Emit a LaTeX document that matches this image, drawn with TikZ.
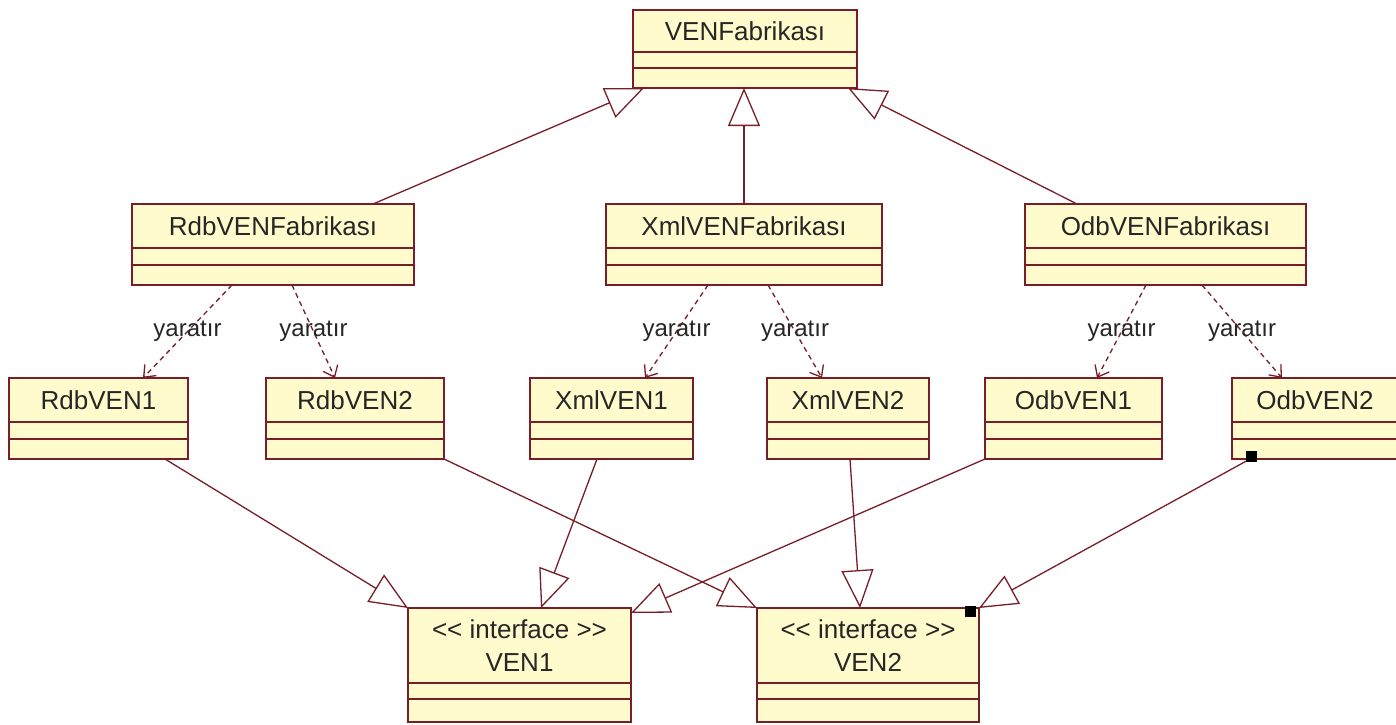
\documentclass[tikz,border=0pt]{standalone}
\usepackage{fontspec}
\setmainfont{Liberation Sans}
\usetikzlibrary{arrows.meta,fit,calc}
\definecolor{umlline}{RGB}{120,30,40}
\definecolor{umlfill}{RGB}{255,251,204}
\tikzset{
  clsbox/.style={draw=umlline, fill=umlfill, line width=1.6pt, inner sep=0pt, outer sep=0pt},
  seprule/.style={draw=umlline, line width=1.6pt},
  clstext/.style={font=\fontsize{26}{33}\selectfont, text=black!85, inner sep=0pt, align=center},
  genarrow/.style={draw=umlline, line width=1.3pt, -{Triangle[open, length=38pt, width=32pt, line width=1.3pt]}},
  deparrow/.style={draw=umlline, line width=1.3pt, dash pattern=on 5pt off 4pt, -{Straight Barb[length=10pt, width=16pt, line width=1.3pt]}},
  deplabel/.style={font=\fontsize{24}{28}\selectfont, text=black!85, inner sep=0pt},
  handle/.style={fill=black, draw=none, minimum size=11pt, inner sep=0pt},
}
\newcommand{\umlcls}[8]{%
  \node[clsbox, fit={(#2,#3) (#4,#5)}] (#1) {};
  \draw[seprule] (#2,#6) -- (#4,#6) (#2,#7) -- (#4,#7);
  \node[clstext] (#1-name) at ({(#2+#4)/2},{(#3+#6)/2}) {#8};
}
\begin{document}
\begin{tikzpicture}[x=1pt,y=-1pt]
\useasboundingbox (0,0) rectangle (1396,724);
\fill[white] (0,0) rectangle (1396,724);

% classes
\umlcls{venf}{633}{10}{857}{88}{52}{68}{VENFabrikası}
\umlcls{rdbf}{132}{204}{414}{285}{248}{265}{RdbVENFabrikası}
\umlcls{xmlf}{606}{204}{882}{285}{248}{265}{XmlVENFabrikası}
\umlcls{odbf}{1025}{204}{1306}{285}{248}{265}{OdbVENFabrikası}
\umlcls{rv1}{9}{378}{188}{459}{422}{439}{RdbVEN1}
\umlcls{rv2}{266}{378}{444}{459}{422}{439}{RdbVEN2}
\umlcls{xv1}{530}{378}{693}{459}{422}{439}{XmlVEN1}
\umlcls{xv2}{767}{378}{929}{459}{422}{439}{XmlVEN2}
\umlcls{ov1}{985}{378}{1162}{459}{422}{439}{OdbVEN1}
\umlcls{ov2}{1232}{378}{1398}{459}{422}{439}{OdbVEN2}
\umlcls{ven1}{408}{608}{631}{722}{683}{699}{<\kern0pt< interface >\kern0pt>\\VEN1}
\umlcls{ven2}{757}{608}{979}{722}{683}{699}{<\kern0pt< interface >\kern0pt>\\VEN2}

% generalizations to VENFabrikasi
\draw[genarrow] ([xshift=241pt]rdbf.north west) -- ([xshift=11pt]venf.south west);
\draw[genarrow] (xmlf.north) -- (xmlf.north |- venf.south);
\draw[genarrow] ([xshift=52pt]odbf.north west) -- ([xshift=-9pt]venf.south east);

% dependencies
\draw[deparrow] ([xshift=100pt]rdbf.south west) -- node[deplabel]{yaratır} ([xshift=134pt]rv1.north west);
\draw[deparrow] ([xshift=160pt]rdbf.south west) -- node[deplabel]{yaratır} ([xshift=69pt]rv2.north west);
\draw[deparrow] ([xshift=102pt]xmlf.south west) -- node[deplabel]{yaratır} ([xshift=115pt]xv1.north west);
\draw[deparrow] ([xshift=162pt]xmlf.south west) -- node[deplabel]{yaratır} ([xshift=55pt]xv2.north west);
\draw[deparrow] ([xshift=121pt]odbf.south west) -- node[deplabel]{yaratır} ([xshift=112pt]ov1.north west);
\draw[deparrow] ([xshift=177pt]odbf.south west) -- node[deplabel]{yaratır} ([xshift=50pt]ov2.north west);

% generalizations to interfaces
\draw[genarrow] ([xshift=-23pt]rv1.south east) -- (ven1.north west);
\draw[genarrow] ([xshift=67pt]xv1.south west) -- ([xshift=133pt]ven1.north west);
\draw[genarrow] (ov1.south west) -- ([yshift=-5pt]ven1.north east);
\draw[genarrow] (rv2.south east) -- (ven2.north west);
\draw[genarrow] ([xshift=83pt]xv2.south west) -- ([xshift=103pt]ven2.north west);
\draw[genarrow] ([xshift=18pt]ov2.south west) -- (ven2.north east);

% selection handles
\node[handle] (h1) at (1251,456) {};
\node[handle] (h2) at (970,611) {};
\end{tikzpicture}
\end{document}
